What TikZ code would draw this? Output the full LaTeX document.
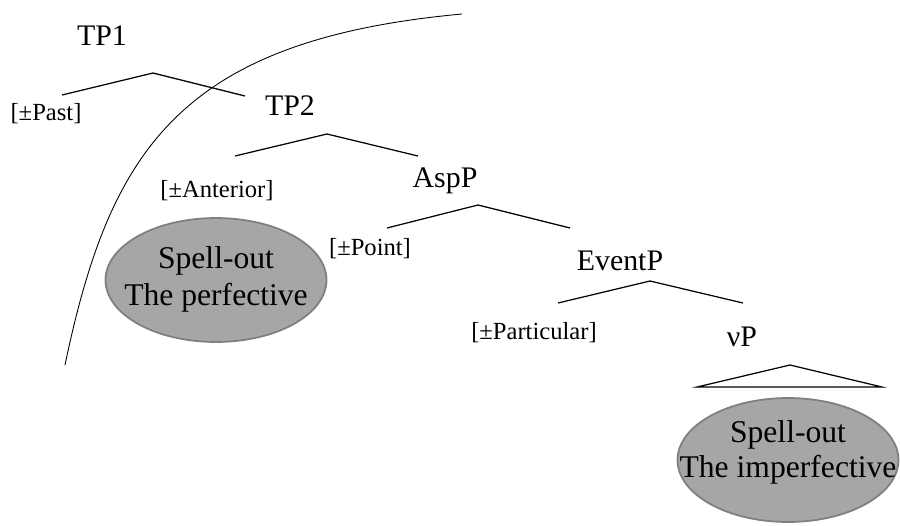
\documentclass[tikz,border=0pt]{standalone}
\usepackage{fontspec}
\setmainfont{Liberation Serif}
\usetikzlibrary{shapes.geometric}
\definecolor{spellfill}{HTML}{A6A6A6}
\definecolor{spelldraw}{HTML}{7F7F7F}

\begin{document}
\begin{tikzpicture}[x=0.02cm,y=-0.02cm,phrase node/.style={inner sep=0pt,anchor=base,font=\fontsize{17}{20}\selectfont},feat node/.style={inner sep=0pt,anchor=base,font=\fontsize{14}{17}\selectfont},spell node/.style={ellipse,draw=spelldraw,fill=spellfill,line width=1pt,minimum width=4.42cm,minimum height=2.48cm,inner sep=0pt},spell text/.style={inner sep=0pt,anchor=base,font=\fontsize{18}{21}\selectfont},branch/.style={line width=0.7pt},cut line/.style={line width=0.5pt}]
                \useasboundingbox (0,0) rectangle (900,525);

                \node[phrase node] (TP1) at (102,45) {TP1};
                \node[feat node] (past) at (46,120) {[±Past]};
                \node[phrase node] (TP2) at (290,115) {TP2};
                \node[feat node] (anterior) at (217,197) {[±Anterior]};
                \node[phrase node] (AspP) at (445,187) {AspP};
                \node[feat node] (point) at (370,255) {[±Point]};
                \node[phrase node] (EventP) at (620,270) {EventP};
                \node[feat node] (particular) at (534,339) {[±Particular]};
                \node[phrase node] (vP) at (742,346) {νP};

                \node[spell node] (perf) at (216,280) {};
                \node[spell text] (perf1) at (216,268) {Spell-out};
                \node[spell text] (perf2) at (216,305) {The perfective};
                \node[spell node] (imperf) at (788,460) {};
                \node[spell text] (imperf1) at (788,442) {Spell-out};
                \node[spell text] (imperf2) at (788,477) {The imperfective};

                \coordinate (tp1 top) at (153,73);
                \coordinate (tp1 left) at (62,95);
                \coordinate (tp1 right) at (245,96);
                \coordinate (tp2 top) at (327,134);
                \coordinate (tp2 left) at (235,156);
                \coordinate (tp2 right) at (418,156);
                \coordinate (asp top) at (478,205);
                \coordinate (asp left) at (387,228);
                \coordinate (asp right) at (570,228);
                \coordinate (ev top) at (650,281);
                \coordinate (ev left) at (558,303);
                \coordinate (ev right) at (743,303);
                \coordinate (vp top) at (790,365);
                \coordinate (vp left) at (697,387);
                \coordinate (vp right) at (882,387);

                \path[branch]
                    (tp1 top) edge (tp1 left)
                    (tp1 top) edge (tp1 right)
                    (tp2 top) edge (tp2 left)
                    (tp2 top) edge (tp2 right)
                    (asp top) edge (asp left)
                    (asp top) edge (asp right)
                    (ev top) edge (ev left)
                    (ev top) edge (ev right)
                ;
                \draw[branch] (vp top) -- (vp right) -- (vp left) -- cycle;

                % spell-out boundary
                \coordinate (cut bottom) at (65,365);
                \coordinate (cut top) at (462,14);
                \draw[cut line] (cut bottom) .. controls (110,150) and (180,40) .. (cut top);

            \end{tikzpicture}
\end{document}
